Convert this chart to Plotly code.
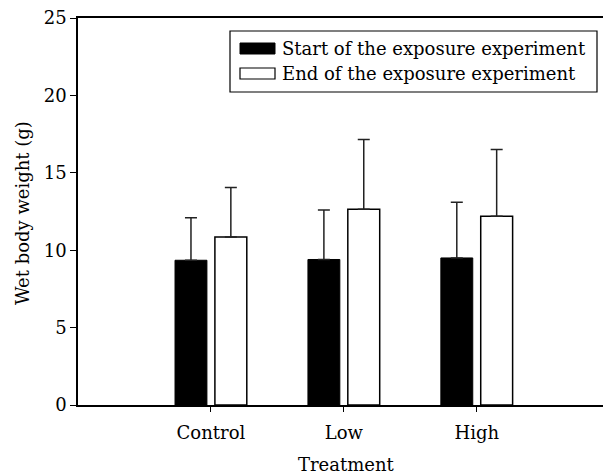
import plotly.graph_objects as go

categories = ["Control", "Low", "High"]
start_mean = [9.35, 9.4, 9.5]
start_err = [2.75, 3.2, 3.6]
end_mean = [10.85, 12.65, 12.2]
end_err = [3.2, 4.5, 4.3]
series_names = ["Start of the exposure experiment", "End of the exposure experiment"]

font_family = "DejaVu Serif"
W, H = 603, 474
L, R, T, B = 78, 0, 18, 69
PW, PH = W - L - R, H - T - B
FS = 18


def px(x):
    return (x - L) / PW


def py(y):
    return 1 - (y - T) / PH


fig = go.Figure()
fig.add_trace(go.Bar(
    x=categories, y=start_mean, name=series_names[0],
    marker=dict(color="black", line=dict(color="black", width=1)),
    error_y=dict(type="data", array=start_err, arrayminus=[0, 0, 0], symmetric=False,
                 color="#222", thickness=1.5, width=6),
))
fig.add_trace(go.Bar(
    x=categories, y=end_mean, name=series_names[1],
    marker=dict(color="white", line=dict(color="black", width=1.5)),
    error_y=dict(type="data", array=end_err, arrayminus=[0, 0, 0], symmetric=False,
                 color="#222", thickness=1.5, width=6),
))

shapes = [
    # legend box
    dict(type="rect", xref="paper", yref="paper", x0=px(230), x1=px(597), y0=py(92), y1=py(31),
         line=dict(color="black", width=1.2), fillcolor="white", layer="above"),
    dict(type="rect", xref="paper", yref="paper", x0=px(240), x1=px(275), y0=py(54), y1=py(43),
         line=dict(color="black", width=1), fillcolor="black", layer="above"),
    dict(type="rect", xref="paper", yref="paper", x0=px(240), x1=px(275), y0=py(79), y1=py(68),
         line=dict(color="black", width=1.2), fillcolor="white", layer="above"),
]
annotations = [
    dict(text=series_names[0], xref="paper", yref="paper", x=px(280), y=py(48),
         xanchor="left", yanchor="middle", showarrow=False, font=dict(size=FS)),
    dict(text=series_names[1], xref="paper", yref="paper", x=px(280), y=py(73),
         xanchor="left", yanchor="middle", showarrow=False, font=dict(size=FS)),
    dict(text="Treatment", xref="paper", yref="paper", x=px(346), y=py(464),
         xanchor="center", yanchor="middle", showarrow=False, font=dict(size=FS)),
    dict(text="Wet body weight (g)", xref="paper", yref="paper", x=px(22), y=py(213),
         xanchor="center", yanchor="middle", showarrow=False, textangle=-90, font=dict(size=FS)),
]

fig.update_layout(
    width=W, height=H,
    margin=dict(l=L, r=R, t=T, b=B, autoexpand=False),
    paper_bgcolor="white", plot_bgcolor="white",
    barmode="group", bargap=0.4, bargroupgap=0.2,
    font=dict(family=font_family, size=FS, color="black"),
    showlegend=False,
    shapes=shapes, annotations=annotations,
    xaxis=dict(
        type="category", range=[-1, 2.95], automargin=False,
        showline=True, linecolor="black", linewidth=1.5, mirror=True,
        ticks="outside", ticklen=5, tickcolor="black", tickwidth=1,
        showgrid=False, zeroline=False, ticklabelstandoff=6,
        tickfont=dict(size=FS),
    ),
    yaxis=dict(
        range=[0, 25], tickvals=[0, 5, 10, 15, 20, 25], automargin=False,
        showline=True, linecolor="black", linewidth=1.5, mirror=False,
        ticks="outside", ticklen=6, tickcolor="black", tickwidth=1,
        showgrid=False, zeroline=False,
        tickfont=dict(size=FS),
    ),
)

fig.write_html("out.html", config={"displayModeBar": False},
               post_script="document.body.style.margin='0';")
